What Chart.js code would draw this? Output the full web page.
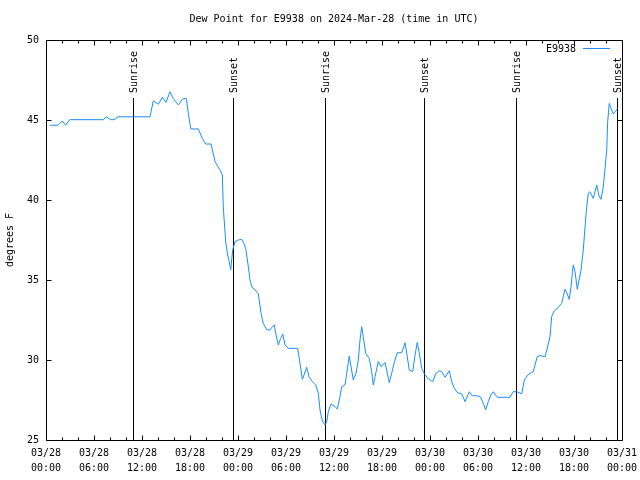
<!DOCTYPE html>
<html>
<head>
<meta charset="utf-8">
<script src="https://cdn.jsdelivr.net/npm/chart.js@4/dist/chart.umd.min.js"></script>
<style>
  html, body { margin: 0; padding: 0; background: #fff; }
  #wrap { width: 640px; height: 480px; }
</style>
</head>
<body>
<div id="wrap"><canvas id="chart" width="640" height="480"></canvas></div>
<script>
// ================================
// DEW POINT - E9938, 2024-Mar-28 (UTC)
// ================================

// hours since 03/28 00:00 UTC
const hours = [
    0.5, 1.5, 2.04, 2.46, 2.96, 7.16, 7.54, 8.09, 8.5, 9.0,
    13.0, 13.41, 14.04, 14.54, 15.0, 15.5, 15.91, 16.54, 17.09, 17.54,
    17.79, 18.09, 19.04, 19.54, 19.96, 20.63, 21.13, 21.75, 22.04, 22.16,
    22.46, 22.71, 22.91, 23.09, 23.21, 23.34, 23.63, 24.04, 24.46, 24.75,
    25.0, 25.29, 25.5, 25.71, 26.13, 26.54, 26.88, 27.16, 27.59, 28.0,
    28.29, 28.54, 28.71, 29.04, 29.34, 29.59, 29.88, 30.29, 31.46, 31.75,
    32.04, 32.25, 32.59, 32.88, 33.29, 33.71, 34.04, 34.25, 34.54, 34.88,
    35.09, 35.29, 35.63, 36.13, 36.41, 36.75, 36.96, 37.38, 37.59, 37.91,
    38.13, 38.41, 38.75, 39.04, 39.25, 39.46, 39.66, 39.96, 40.41, 40.71,
    40.91, 41.13, 41.54, 41.88, 42.38, 42.66, 42.91, 43.21, 43.5, 43.91,
    44.46, 44.88, 45.16, 45.41, 45.84, 46.13, 46.41, 46.66, 46.96, 47.25,
    47.79, 48.34, 48.75, 49.16, 49.46, 49.88, 50.41, 50.71, 51.04, 51.41,
    51.96, 52.38, 52.91, 53.29, 53.84, 54.34, 54.66, 54.96, 55.29, 55.59,
    55.91, 56.41, 58.0, 58.41, 58.84, 59.46, 59.79, 60.21, 60.63, 60.91,
    61.13, 61.41, 61.75, 62.38, 62.71, 63.0, 63.21, 63.54, 64.04, 64.46,
    64.88, 65.16, 65.41, 65.63, 65.79, 65.91, 66.13, 66.41, 66.63, 66.88,
    67.16, 67.38, 67.59, 67.79, 68.0, 68.41, 68.84, 69.13, 69.38, 69.66,
    69.88, 70.09, 70.21, 70.41, 70.63, 70.91, 71.13, 71.46
];

// degrees F
const dewPoint = [
    44.67, 44.67, 44.94, 44.67, 45.02, 45.02, 45.2, 45.02, 45.02, 45.2,
    45.2, 46.2, 45.98, 46.42, 46.1, 46.77, 46.35, 45.94, 46.31, 46.35,
    45.42, 44.44, 44.44, 43.85, 43.5, 43.5, 42.4, 41.88, 41.56, 39.58,
    37.4, 36.56, 36.15, 35.63, 36.25, 36.88, 37.4, 37.5, 37.54, 37.29,
    36.88, 35.83, 35.0, 34.58, 34.38, 34.13, 32.92, 32.29, 31.88, 31.88,
    32.08, 32.19, 31.67, 30.94, 31.35, 31.63, 30.94, 30.73, 30.73, 29.79,
    28.79, 29.06, 29.54, 28.96, 28.65, 28.44, 27.92, 26.88, 26.19, 25.94,
    26.15, 26.77, 27.25, 27.08, 26.94, 27.71, 28.33, 28.44, 29.17, 30.25,
    29.58, 28.75, 29.17, 30.0, 31.25, 32.08, 31.46, 30.42, 30.1, 29.27,
    28.44, 28.96, 29.9, 29.58, 29.85, 29.17, 28.58, 29.17, 29.79, 30.46,
    30.46, 31.08, 30.21, 29.38, 29.27, 30.31, 31.1, 30.42, 29.48, 29.17,
    28.81, 28.65, 29.17, 29.33, 29.27, 28.92, 29.33, 28.65, 28.23, 27.96,
    27.88, 27.4, 28.02, 27.77, 27.77, 27.67, 27.29, 26.88, 27.4, 27.81,
    28.02, 27.67, 27.67, 28.02, 28.02, 27.88, 28.75, 29.06, 29.21, 29.27,
    29.69, 30.21, 30.27, 30.21, 30.83, 31.46, 32.71, 33.08, 33.29, 33.54,
    34.42, 34.13, 33.79, 34.58, 35.42, 35.94, 35.52, 34.42, 35.0, 35.63,
    36.88, 38.33, 39.58, 40.42, 40.52, 40.1, 40.94, 40.25, 40.04, 40.83,
    41.98, 43.13, 44.9, 46.04, 45.73, 45.38, 45.52, 45.73
];

// sunrise / sunset markers (hours since 03/28 00:00 UTC)
const eventHours = [10.875, 23.375, 34.875, 47.25, 58.75, 71.375];
const eventLabels = ['Sunrise', 'Sunset', 'Sunrise', 'Sunset', 'Sunrise', 'Sunset'];

// axis ticks
const xTickHours = [0, 6, 12, 18, 24, 30, 36, 42, 48, 54, 60, 66, 72];
const xTickDates = ['03/28', '03/28', '03/28', '03/28', '03/29', '03/29', '03/29',
                    '03/29', '03/30', '03/30', '03/30', '03/30', '03/31'];
const xTickTimes = ['00:00', '06:00', '12:00', '18:00', '00:00', '06:00', '12:00',
                    '18:00', '00:00', '06:00', '12:00', '18:00', '00:00'];
const yTicks = [25, 30, 35, 40, 45, 50];

const seriesName = 'E9938';
const titleText = 'Dew Point for E9938 on 2024-Mar-28 (time in UTC)';
const yTitle = 'degrees F';

const FONT_FAMILY = '"DejaVu Sans Mono", "Liberation Mono", monospace';
const LINE_COLOR = '#1a8cff';

function crisp(v) {
    return Math.round(v) + 0.5;
}

// frame, inward tics, sunrise/sunset lines and legend
const framePlugin = {
    id: 'frame',
    beforeDatasetsDraw(chart) {
        const { ctx, chartArea: a, scales } = chart;
        ctx.save();
        ctx.strokeStyle = '#000';
        ctx.fillStyle = '#000';
        ctx.lineWidth = 1;
        ctx.font = '10px ' + FONT_FAMILY;
        eventHours.forEach((h, i) => {
            const px = crisp(scales.x.getPixelForValue(h));
            ctx.beginPath();
            ctx.moveTo(px, a.top + 58);
            ctx.lineTo(px, a.bottom);
            ctx.stroke();
            ctx.save();
            ctx.translate(px + 1, a.top + 53);
            ctx.rotate(-Math.PI / 2);
            ctx.textAlign = 'left';
            ctx.textBaseline = 'middle';
            ctx.fillText(eventLabels[i], 0, 0);
            ctx.restore();
        });
        ctx.restore();
    },
    afterDraw(chart) {
        const { ctx, chartArea: a, scales } = chart;
        const left = crisp(a.left), right = crisp(a.right);
        const top = crisp(a.top), bottom = crisp(a.bottom);
        ctx.save();
        ctx.strokeStyle = '#000';
        ctx.lineWidth = 1;
        ctx.beginPath();
        ctx.rect(left, top, right - left, bottom - top);
        ctx.stroke();

        // x tics: major every 6h, minor every 2h, bottom and top
        ctx.beginPath();
        for (let h = scales.x.min; h <= scales.x.max; h += 2) {
            const px = crisp(scales.x.getPixelForValue(h));
            const len = (h % 6 === 0) ? 5 : 3;
            ctx.moveTo(px, bottom);
            ctx.lineTo(px, bottom - len);
            ctx.moveTo(px, top);
            ctx.lineTo(px, top + len);
        }
        // y tics, left and right
        yTicks.forEach(v => {
            const py = crisp(scales.y.getPixelForValue(v));
            ctx.moveTo(left, py);
            ctx.lineTo(left + 5, py);
            ctx.moveTo(right, py);
            ctx.lineTo(right - 5, py);
        });
        ctx.stroke();

        // legend (top right, inside the plot)
        ctx.font = '10px ' + FONT_FAMILY;
        ctx.fillStyle = '#000';
        ctx.textAlign = 'right';
        ctx.textBaseline = 'middle';
        ctx.fillText(seriesName, a.right - 46, a.top + 9);
        ctx.strokeStyle = LINE_COLOR;
        ctx.beginPath();
        ctx.moveTo(a.right - 39, crisp(a.top + 8));
        ctx.lineTo(a.right - 12, crisp(a.top + 8));
        ctx.stroke();
        ctx.restore();
    }
};

const ctx = document.getElementById('chart').getContext('2d');

new Chart(ctx, {
    type: 'line',
    data: {
        datasets: [{
            label: seriesName,
            data: hours.map((h, i) => ({ x: h, y: dewPoint[i] })),
            borderColor: LINE_COLOR,
            backgroundColor: LINE_COLOR,
            borderWidth: 1,
            pointRadius: 0,
            tension: 0,
            fill: false
        }]
    },
    options: {
        responsive: false,
        animation: false,
        devicePixelRatio: 1,
        layout: {
            padding: { left: 0, right: 18, top: 0, bottom: 0 }
        },
        plugins: {
            legend: { display: false },
            tooltip: { enabled: false },
            title: {
                display: true,
                text: titleText,
                fullSize: false,
                color: '#000',
                font: { family: FONT_FAMILY, size: 10, weight: 'normal', lineHeight: 1.2 },
                padding: { top: 13, bottom: 15 }
            }
        },
        scales: {
            x: {
                type: 'linear',
                min: 0,
                max: 72,
                afterBuildTicks: scale => {
                    scale.ticks = xTickHours.map(v => ({ value: v }));
                },
                afterFit: scale => {
                    scale.height = 40;
                    scale.paddingLeft = 0;
                    scale.paddingRight = 0;
                },
                ticks: {
                    autoSkip: false,
                    maxRotation: 0,
                    padding: 6,
                    color: '#000',
                    font: { family: FONT_FAMILY, size: 10, lineHeight: 1.5 },
                    callback: (value, index) => [xTickDates[index], xTickTimes[index]]
                },
                grid: { display: false, drawTicks: false },
                border: { display: false }
            },
            y: {
                min: 25,
                max: 50,
                afterBuildTicks: scale => {
                    scale.ticks = yTicks.map(v => ({ value: v }));
                },
                afterFit: scale => {
                    scale.width = 46;
                    scale.paddingTop = 0;
                    scale.paddingBottom = 0;
                },
                ticks: {
                    padding: 7,
                    color: '#000',
                    font: { family: FONT_FAMILY, size: 10 }
                },
                grid: { display: false, drawTicks: false },
                border: { display: false },
                title: {
                    display: true,
                    text: yTitle,
                    color: '#000',
                    font: { family: FONT_FAMILY, size: 10, lineHeight: 1.2 },
                    padding: { top: 4, bottom: 0 }
                }
            }
        }
    },
    plugins: [framePlugin]
});
</script>
</body>
</html>
